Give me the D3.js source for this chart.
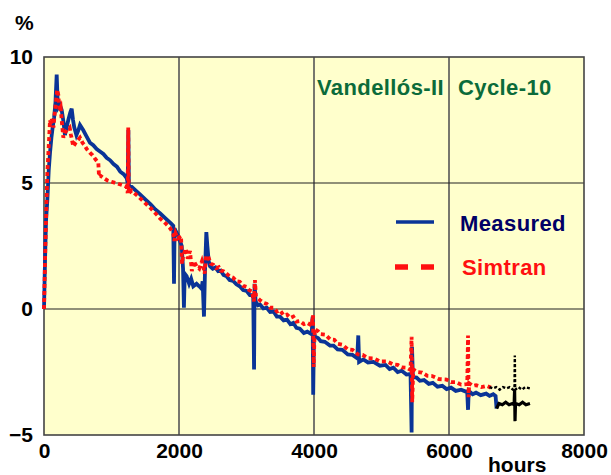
<!DOCTYPE html>
<html>
<head>
<meta charset="utf-8">
<script src="https://cdn.jsdelivr.net/npm/d3@7"></script>
<style>
body{margin:0;background:#fff;}
text{font-family:"Liberation Sans",Arial,sans-serif;font-weight:bold;}
</style>
</head>
<body>
<svg id="chart"></svg>
<script>
// chart data (hours, %)
var xTicks = [0,2000,4000,6000,8000]
var yTicks = [10,5,0,-5]

var measured = [[0,0],[15,1.9],[30,3.5],[49,4.3],[70,5.5],[89,6.2],[110,6.8],[128,7.2],[150,7.6],[170,8.2],[188,9.3],[200,8.4],[212,8.0],[235,8.1],[262,7.9],[290,7.4],[310,6.9],[326,7.1],[360,7.5],[390,7.8],[410,7.95],[430,7.5],[449,7.2],[480,6.9],[510,7.1],[533,7.3],[580,7.1],[630,6.85],[681,6.6],[730,6.5],[780,6.35],[830,6.25],[880,6.15],[928,6.0],[980,5.9],[1030,5.75],[1080,5.65],[1130,5.45],[1180,5.35],[1224,5.2],[1240,5.0],[1250,7.1],[1258,4.9],[1300,4.85],[1360,4.7],[1422,4.55],[1500,4.35],[1580,4.15],[1650,3.95],[1718,3.8],[1800,3.6],[1880,3.4],[1915,3.3],[1926,1.0],[1935,3.2],[1950,3.1],[1990,2.9],[2014,2.7],[2040,2.5],[2060,1.6],[2073,0.05],[2085,1.4],[2113,1.3],[2150,1.0],[2180,1.2],[2212,0.9],[2260,1.0],[2300,0.9],[2335,0.8],[2350,1.1],[2370,-0.3],[2385,1.5],[2405,3.05],[2420,2.5],[2440,1.9],
    [2459,1.7],[2500,1.6],[2540,1.65],[2580,1.5],[2620,1.52],[2660,1.35],[2705,1.3],[2750,1.15],[2800,1.12],[2850,0.98],[2900,0.9],[2950,0.75],[3000,0.72],[3050,0.55],[3080,0.55],[3100,0.45],[3112,-2.4],[3120,1.0],
    [3135,0.3],[3170,0.15],[3200,0.18],[3250,0.02],[3300,0.05],[3350,-0.12],[3400,-0.1],[3450,-0.3],[3496,-0.3],[3550,-0.45],[3600,-0.42],[3650,-0.6],[3693,-0.55],[3740,-0.75],[3790,-0.78],[3850,-0.95],[3900,-0.9],[3965,-1.0],[3980,-0.3],[3988,-3.4],[4000,-0.9],
    [4015,-1.1],[4060,-1.15],[4100,-1.28],[4160,-1.3],[4237,-1.45],[4290,-1.45],[4350,-1.6],[4420,-1.62],[4500,-1.8],[4570,-1.82],[4640,-1.95],[4656,-1.05],
    [4668,-2.1],[4730,-2.0],[4800,-2.12],[4880,-2.1],[4977,-2.25],[5060,-2.22],[5120,-2.38],[5175,-2.33],[5240,-2.5],[5300,-2.45],[5370,-2.6],[5430,-2.58],[5446,-4.9],[5452,-1.5],
    [5465,-2.7],[5520,-2.72],[5569,-2.85],[5630,-2.82],[5700,-2.97],[5760,-2.93],[5830,-3.08],[5900,-3.05],[5964,-3.18],[6030,-3.12],[6100,-3.25],[6180,-3.2],[6270,-3.3],[6282,-4.0],
    [6292,-3.25],[6350,-3.38],[6400,-3.32],[6470,-3.42],[6550,-3.36],[6600,-3.45],[6655,-3.38],[6690,-3.45],[6705,-3.95]]

var simtran = [[0,0],[20,2.5],[35,4.0],[49,5.4],[65,6.2],[80,7.0],[89,7.5],[105,7.3],[120,7.6],[140,7.2],[160,7.8],[180,8.3],[195,8.7],[212,8.5],[230,7.9],[247,8.0],[265,7.4],[286,6.8],[310,7.0],[340,7.1],[380,7.2],[400,6.9],[434,6.45],[470,6.6],[500,6.7],[533,6.8],[570,6.6],[600,6.5],[632,6.35],[680,6.2],[720,6.1],[760,5.95],[805,5.8],[815,5.25],[830,5.3],[880,5.2],[940,5.1],[1000,5.05],[1060,5.0],[1120,4.95],[1180,4.9],[1224,4.85],[1240,4.6],[1248,7.2],[1256,4.6],[1300,4.7],[1360,4.55],[1422,4.4],[1500,4.2],[1580,4.0],[1650,3.8],[1718,3.6],[1800,3.4],[1870,3.2],[1915,3.0],[1930,2.7],[1950,3.0],[1980,2.8],[2030,2.9],[2045,1.8],[2060,2.1],[2100,2.4],[2130,2.0],[2163,2.3],[2190,1.5],[2220,1.9],[2260,1.7],[2300,1.6],[2340,1.9],[2360,1.7],[2380,1.4],[2400,2.1],[2430,2.1],
    [2470,1.8],[2510,1.75],[2550,1.62],[2590,1.66],[2620,1.52],[2660,1.5],[2705,1.4],[2750,1.3],[2800,1.25],[2850,1.1],[2900,1.08],[2950,0.92],[3000,0.88],[3040,0.75],[3080,0.7],[3110,0.3],[3125,1.15],
    [3140,0.5],[3200,0.35],[3250,0.25],[3300,0.2],[3350,0.05],[3400,0.05],[3450,-0.1],[3496,-0.05],[3550,-0.25],[3600,-0.22],[3650,-0.35],[3693,-0.3],[3740,-0.5],[3790,-0.48],[3850,-0.6],[3900,-0.55],[3965,-0.65],[3985,-0.25],[3995,-2.3],
    [4010,-0.8],[4060,-0.88],[4100,-1.0],[4170,-1.02],[4237,-1.2],[4300,-1.22],[4350,-1.38],[4420,-1.42],[4500,-1.6],[4570,-1.62],[4650,-1.8],[4720,-1.82],[4800,-1.95],[4890,-1.96],[4977,-2.08],[5080,-2.08],[5175,-2.2],[5240,-2.22],[5300,-2.32],[5370,-2.33],[5430,-2.42],[5446,-1.1],[5455,-3.7],
    [5470,-2.4],[5530,-2.5],[5600,-2.52],[5680,-2.65],[5750,-2.66],[5850,-2.78],[5964,-2.8],[6030,-2.9],[6100,-2.9],[6180,-3.0],[6270,-2.98],[6282,-1.05],[6290,-3.5],
    [6300,-2.95],[6350,-3.05],[6400,-3.02],[6480,-3.1],[6557,-3.05],[6620,-3.12]]

// black tails past the end of the coloured curves
var tailUpper = [[6600,-3.1],[6650,-3.15],[6700,-3.1],[6750,-3.2],[6800,-3.1],[6850,-3.15],[6900,-3.1],[6950,-3.2],[6970,-3.15],[6975,-1.85],[6980,-3.2],[7030,-3.1],[7080,-3.2],[7130,-3.1],[7200,-3.15]]
var tailLower = [[6705,-3.95],[6740,-3.75],[6790,-3.8],[6840,-3.7],[6890,-3.8],[6940,-3.75],[6965,-3.8],[6972,-3.2],[6978,-4.45],[6985,-3.75],[7040,-3.8],[7090,-3.7],[7140,-3.8],[7200,-3.75]]

var svg = d3.select("#chart").attr("width",611).attr("height",475)

var xScale = d3.scaleLinear().domain([0,8000]).range([44,584])
var yScale = d3.scaleLinear().domain([-5,10]).range([435,57])

//plot background
svg.append("rect")
    .attr("x",xScale(0)).attr("y",yScale(10))
    .attr("width",xScale(8000)-xScale(0))
    .attr("height",yScale(-5)-yScale(10))
    .attr("fill","#ffffcc")

//grid lines
svg.selectAll(".vgrid")
    .data([2000,4000,6000])
    .enter().append("line")
    .attr("x1",function(d){return xScale(d)}).attr("x2",function(d){return xScale(d)})
    .attr("y1",yScale(10)).attr("y2",yScale(-5))
    .attr("stroke","#555").attr("stroke-width",1.6)
svg.selectAll(".hgrid")
    .data([5,0])
    .enter().append("line")
    .attr("x1",xScale(0)).attr("x2",xScale(8000))
    .attr("y1",function(d){return yScale(d)}).attr("y2",function(d){return yScale(d)})
    .attr("stroke","#222").attr("stroke-width",1.2)

//axes, labels only
var xAxis = d3.axisBottom(xScale).tickValues(xTicks).tickSize(0).tickPadding(8).tickFormat(d3.format("d"))
var yAxis = d3.axisLeft(yScale).tickValues(yTicks).tickSize(0).tickPadding(11)
var gx = svg.append("g").attr("transform","translate(0,"+yScale(-5)+")").call(xAxis)
var gy = svg.append("g").attr("transform","translate("+xScale(0)+",0)").call(yAxis)
gx.select(".domain").remove()
gy.select(".domain").remove()
svg.selectAll(".tick text")
    .style("font-family","'Liberation Sans',Arial,sans-serif")
    .style("font-weight","bold")
    .style("font-size","21px")
    .attr("fill","#000")

//frame
svg.append("rect")
    .attr("x",xScale(0)).attr("y",yScale(10))
    .attr("width",xScale(8000)-xScale(0))
    .attr("height",yScale(-5)-yScale(10))
    .attr("fill","none").attr("stroke","#444").attr("stroke-width",1.6)

var line = d3.line()
    .x(function(d){return xScale(d[0])})
    .y(function(d){return yScale(d[1])})

svg.append("path").datum(measured)
    .attr("d",line).attr("fill","none")
    .attr("stroke","#0a3497").attr("stroke-width",3.8)
svg.append("path").datum(simtran)
    .attr("d",line).attr("fill","none")
    .attr("stroke","#ff1010").attr("stroke-width",3.8)
    .attr("stroke-dasharray","4,3")
svg.append("path").datum(tailLower)
    .attr("d",line).attr("fill","none")
    .attr("stroke","#000").attr("stroke-width",3.2)
svg.append("path").datum(tailUpper)
    .attr("d",line).attr("fill","none")
    .attr("stroke","#000").attr("stroke-width",2.4)
    .attr("stroke-dasharray","3,2")

//texts
svg.append("text").attr("x",15).attr("y",30).style("font-size","21px").text("%")
svg.append("text").attr("x",488).attr("y",472).style("font-size","21px").text("hours")
svg.append("text").attr("x",317).attr("y",95).style("font-size","22px").style("letter-spacing","0.4px").attr("fill","#0b6b3a").text("Vandellós-II")
svg.append("text").attr("x",458).attr("y",95).style("font-size","22px").style("letter-spacing","0.4px").attr("fill","#0b6b3a").text("Cycle-10")

//legend
svg.append("line").attr("x1",396).attr("x2",434).attr("y1",222).attr("y2",222)
    .attr("stroke","#0a3497").attr("stroke-width",3.5)
svg.append("text").attr("x",460).attr("y",231).style("font-size","22px").style("letter-spacing","0.4px").attr("fill","#000066").text("Measured")
svg.append("line").attr("x1",395).attr("x2",434).attr("y1",267).attr("y2",267)
    .attr("stroke","#ff1010").attr("stroke-width",5.5).attr("stroke-dasharray","13,13")
svg.append("text").attr("x",462).attr("y",275).style("font-size","22px").style("letter-spacing","0.4px").attr("fill","#ff1010").text("Simtran")
</script>
</body>
</html>
